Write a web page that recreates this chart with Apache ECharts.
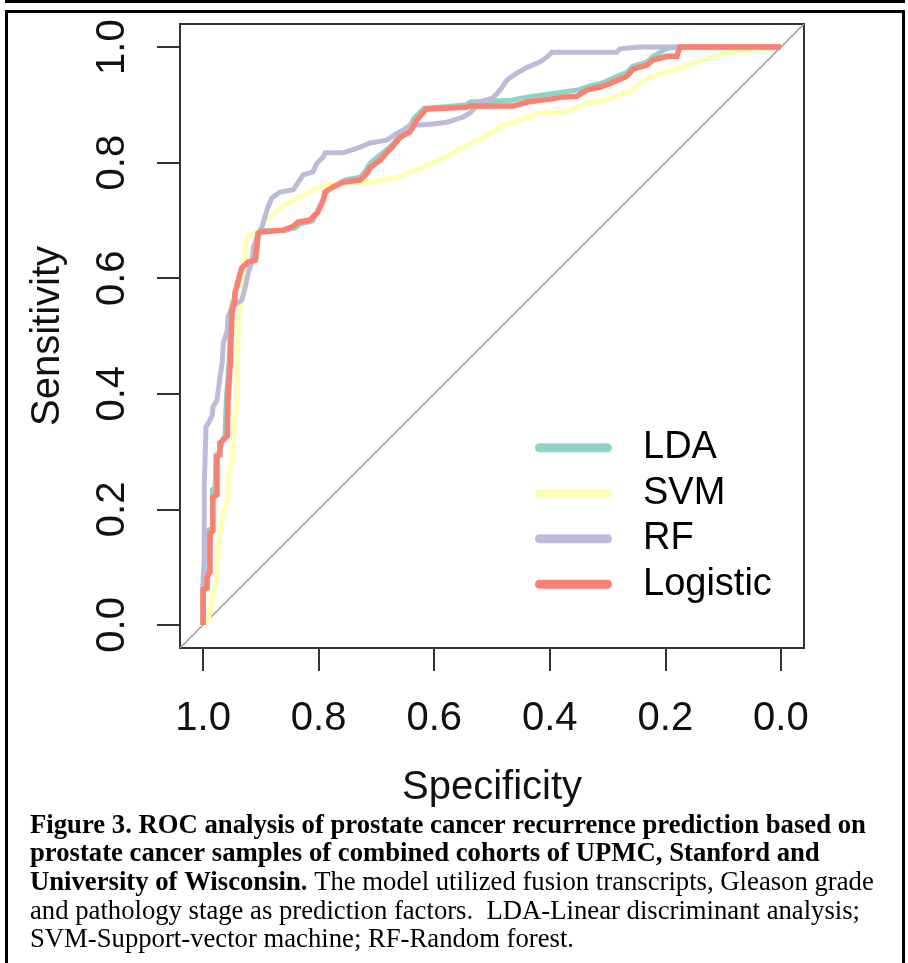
<!DOCTYPE html>
<html>
<head>
<meta charset="utf-8">
<script src="https://cdn.jsdelivr.net/npm/echarts@6/dist/echarts.min.js"></script>
<style>
html, body { margin: 0; padding: 0; background: #fff; }
#chart { width: 908px; height: 963px; }
</style>
</head>
<body>
<div id="chart"></div>
<script>
// legend / tick labels
var legendNames = ['LDA', 'SVM', 'RF', 'Logistic'];
var tickValues = [0, 0.2, 0.4, 0.6, 0.8, 1.0];

// ROC curves (specificity, sensitivity)
var ldaSpec = [1.000, 1.000, 0.995, 0.995, 0.990, 0.990, 0.984, 0.984, 0.979, 0.978, 0.971, 0.967, 0.962, 0.960, 0.955, 0.952, 0.946, 0.943, 0.936, 0.927, 0.919, 0.908, 0.905, 0.903, 0.898, 0.858, 0.841, 0.832, 0.811, 0.804, 0.798, 0.791, 0.785, 0.772, 0.754, 0.728, 0.718, 0.711, 0.694, 0.680, 0.668, 0.659, 0.645, 0.635, 0.618, 0.545, 0.538, 0.465, 0.443, 0.400, 0.379, 0.351, 0.330, 0.310, 0.291, 0.266, 0.256, 0.232, 0.221, 0.209, 0.197, 0.175, 0.000];
var ldaSens = [0.000, 0.069, 0.078, 0.092, 0.095, 0.164, 0.168, 0.234, 0.237, 0.294, 0.299, 0.320, 0.327, 0.389, 0.458, 0.545, 0.566, 0.580, 0.600, 0.618, 0.628, 0.635, 0.666, 0.678, 0.682, 0.683, 0.687, 0.694, 0.699, 0.711, 0.725, 0.739, 0.753, 0.761, 0.770, 0.775, 0.787, 0.799, 0.813, 0.824, 0.836, 0.848, 0.856, 0.877, 0.894, 0.900, 0.905, 0.908, 0.913, 0.919, 0.922, 0.926, 0.933, 0.938, 0.946, 0.957, 0.967, 0.974, 0.984, 0.991, 0.998, 1.000, 1.000];

var svmSpec = [1.000, 0.993, 0.988, 0.983, 0.976, 0.974, 0.971, 0.965, 0.958, 0.955, 0.950, 0.948, 0.945, 0.941, 0.941, 0.939, 0.936, 0.933, 0.929, 0.927, 0.922, 0.907, 0.896, 0.884, 0.872, 0.855, 0.837, 0.820, 0.803, 0.780, 0.734, 0.711, 0.689, 0.664, 0.642, 0.619, 0.595, 0.573, 0.550, 0.521, 0.486, 0.452, 0.417, 0.382, 0.365, 0.336, 0.301, 0.279, 0.256, 0.239, 0.215, 0.187, 0.152, 0.118, 0.088, 0.059, 0.000];
var svmSens = [0.000, 0.005, 0.021, 0.055, 0.078, 0.125, 0.159, 0.194, 0.216, 0.263, 0.285, 0.320, 0.355, 0.389, 0.446, 0.528, 0.548, 0.562, 0.597, 0.654, 0.673, 0.678, 0.692, 0.706, 0.718, 0.730, 0.739, 0.747, 0.756, 0.763, 0.765, 0.766, 0.770, 0.775, 0.784, 0.792, 0.804, 0.813, 0.827, 0.841, 0.862, 0.874, 0.886, 0.886, 0.891, 0.903, 0.908, 0.917, 0.926, 0.943, 0.952, 0.960, 0.972, 0.983, 0.991, 0.995, 1.000];

var rfSpec = [1.000, 1.000, 0.998, 0.998, 0.995, 0.995, 0.991, 0.984, 0.983, 0.976, 0.971, 0.967, 0.965, 0.958, 0.957, 0.950, 0.941, 0.933, 0.927, 0.922, 0.915, 0.913, 0.905, 0.898, 0.893, 0.888, 0.881, 0.867, 0.844, 0.836, 0.827, 0.810, 0.803, 0.792, 0.789, 0.758, 0.742, 0.728, 0.711, 0.682, 0.664, 0.654, 0.642, 0.625, 0.602, 0.578, 0.550, 0.538, 0.521, 0.498, 0.486, 0.474, 0.457, 0.439, 0.417, 0.405, 0.396, 0.284, 0.279, 0.244, 0.000];
var rfSens = [0.000, 0.078, 0.112, 0.239, 0.242, 0.343, 0.349, 0.363, 0.377, 0.389, 0.427, 0.453, 0.488, 0.510, 0.533, 0.548, 0.557, 0.562, 0.585, 0.609, 0.631, 0.654, 0.675, 0.689, 0.706, 0.723, 0.739, 0.749, 0.753, 0.765, 0.779, 0.784, 0.799, 0.810, 0.817, 0.817, 0.822, 0.827, 0.834, 0.839, 0.851, 0.856, 0.865, 0.865, 0.867, 0.870, 0.879, 0.886, 0.905, 0.912, 0.926, 0.943, 0.955, 0.965, 0.974, 0.983, 0.991, 0.991, 0.997, 1.000, 1.000];

var logSpec = [1.000, 1.000, 0.993, 0.993, 0.988, 0.988, 0.983, 0.983, 0.976, 0.976, 0.971, 0.971, 0.965, 0.958, 0.957, 0.953, 0.950, 0.945, 0.945, 0.939, 0.933, 0.922, 0.910, 0.907, 0.905, 0.901, 0.862, 0.844, 0.836, 0.815, 0.810, 0.801, 0.792, 0.789, 0.775, 0.758, 0.728, 0.716, 0.711, 0.694, 0.682, 0.673, 0.659, 0.642, 0.630, 0.614, 0.545, 0.538, 0.464, 0.439, 0.400, 0.382, 0.353, 0.336, 0.313, 0.291, 0.266, 0.256, 0.232, 0.221, 0.197, 0.180, 0.175, 0.000];
var logSens = [0.000, 0.061, 0.064, 0.083, 0.092, 0.159, 0.163, 0.221, 0.225, 0.291, 0.294, 0.315, 0.320, 0.327, 0.389, 0.453, 0.540, 0.562, 0.574, 0.597, 0.618, 0.628, 0.631, 0.657, 0.678, 0.680, 0.683, 0.690, 0.697, 0.701, 0.706, 0.715, 0.735, 0.749, 0.758, 0.766, 0.770, 0.782, 0.792, 0.804, 0.818, 0.827, 0.844, 0.853, 0.874, 0.893, 0.896, 0.898, 0.898, 0.905, 0.910, 0.913, 0.915, 0.926, 0.931, 0.939, 0.950, 0.962, 0.969, 0.978, 0.984, 0.984, 1.000, 1.000];

// chance diagonal, corner to corner of the plot box
var diagSpec = [1.04, -0.04];
var diagSens = [-0.04, 1.04];

var colors = ['#8DD3C7', '#FFFFB3', '#BEBADA', '#FB8072'];

function pairs(xs, ys) {
	return xs.map(function(x, i) { return [x, ys[i]]; });
}

var chart = echarts.init(document.getElementById('chart'));

var curves = [
	[ldaSpec, ldaSens, 5],
	[svmSpec, svmSens, 5],
	[rfSpec, rfSens, 5],
	[logSpec, logSens, 5.5]
];

var series = [{
	name: 'diag',
	type: 'line',
	data: pairs(diagSpec, diagSens),
	showSymbol: false,
	silent: true,
	lineStyle: { color: '#9a9a9a', width: 1.5 },
	z: 1
}];
curves.forEach(function(c, i) {
	series.push({
		name: legendNames[i],
		type: 'line',
		data: pairs(c[0], c[1]),
		showSymbol: false,
		color: colors[i],
		lineStyle: { color: colors[i], width: c[2], join: 'miter' },
		z: 2 + i
	});
});

var pill = 'path://M4.5,0L72.5,0A4.5,4.5,0,0,1,72.5,9L4.5,9A4.5,4.5,0,0,1,4.5,0Z';
var font = '"Liberation Sans", Arial, sans-serif';
var serif = '"Liberation Serif", "Times New Roman", serif';

var option = {
	animation: false,
	backgroundColor: '#fff',
	grid: {
		left: 180, top: 24, width: 624, height: 624,
		show: true, borderColor: '#333', borderWidth: 2
	},
	legend: {
		data: legendNames,
		orient: 'vertical',
		left: 535,
		top: 425,
		padding: 0,
		itemGap: 0,
		itemWidth: 77,
		itemHeight: 9,
		icon: pill,
		textStyle: {
			fontSize: 38, fontFamily: font, color: '#000',
			lineHeight: 45.5, padding: [0, 0, 0, 26]
		}
	},
	xAxis: {
		type: 'value',
		inverse: true,
		min: -0.04,
		max: 1.04,
		name: 'Specificity',
		nameLocation: 'middle',
		nameGap: 120,
		nameTextStyle: { fontSize: 40, fontFamily: font, color: '#111' },
		axisLine: { show: false, onZero: false },
		splitLine: { show: false },
		axisTick: {
			show: true, length: 23, customValues: tickValues,
			lineStyle: { color: '#333', width: 2 }
		},
		axisLabel: {
			customValues: tickValues, margin: 51,
			fontSize: 40, fontFamily: font, color: '#111',
			formatter: function(v) { return v.toFixed(1); }
		}
	},
	yAxis: {
		type: 'value',
		min: -0.04,
		max: 1.04,
		name: 'Sensitivity',
		nameLocation: 'middle',
		nameGap: 112,
		nameTextStyle: { fontSize: 40, fontFamily: font, color: '#111' },
		axisLine: { show: false, onZero: false },
		splitLine: { show: false },
		axisTick: {
			show: true, length: 23, customValues: tickValues,
			lineStyle: { color: '#333', width: 2 }
		},
		axisLabel: {
			customValues: tickValues, margin: 47, rotate: 90,
			fontSize: 40, fontFamily: font, color: '#111',
			formatter: function(v) { return v.toFixed(1); }
		}
	},
	graphic: [
		{ type: 'rect', shape: { x: 5, y: 0, width: 900, height: 3 }, style: { fill: '#000' } },
		{ type: 'rect', shape: { x: 6.5, y: 11.5, width: 897, height: 1000 }, style: { fill: 'none', stroke: '#000', lineWidth: 3 } },
		{ type: 'text', x: 30, y: 826, style: { text: 'Figure 3. ROC analysis of prostate cancer recurrence prediction based on', font: 'bold 26.7px ' + serif, fill: '#000', verticalAlign: 'middle' } },
		{ type: 'text', x: 30, y: 854.5, style: { text: 'prostate cancer samples of combined cohorts of UPMC, Stanford and', font: 'bold 26.7px ' + serif, fill: '#000', verticalAlign: 'middle' } },
		{ type: 'text', x: 30, y: 883, style: {
			text: '{b|University of Wisconsin.} The model utilized fusion transcripts, Gleason grade',
			fontSize: 26.7, fontFamily: serif, fill: '#000', verticalAlign: 'middle',
			rich: { b: { fontWeight: 'bold', fontSize: 26.7, fontFamily: serif, fill: '#000' } }
		} },
		{ type: 'text', x: 30, y: 911.5, style: { text: 'and pathology stage as prediction factors.  LDA-Linear discriminant analysis;', font: '26.7px ' + serif, fill: '#000', verticalAlign: 'middle' } },
		{ type: 'text', x: 30, y: 940, style: { text: 'SVM-Support-vector machine; RF-Random forest.', font: '26.7px ' + serif, fill: '#000', verticalAlign: 'middle' } }
	],
	series: series
};

chart.setOption(option);
</script>
</body>
</html>
